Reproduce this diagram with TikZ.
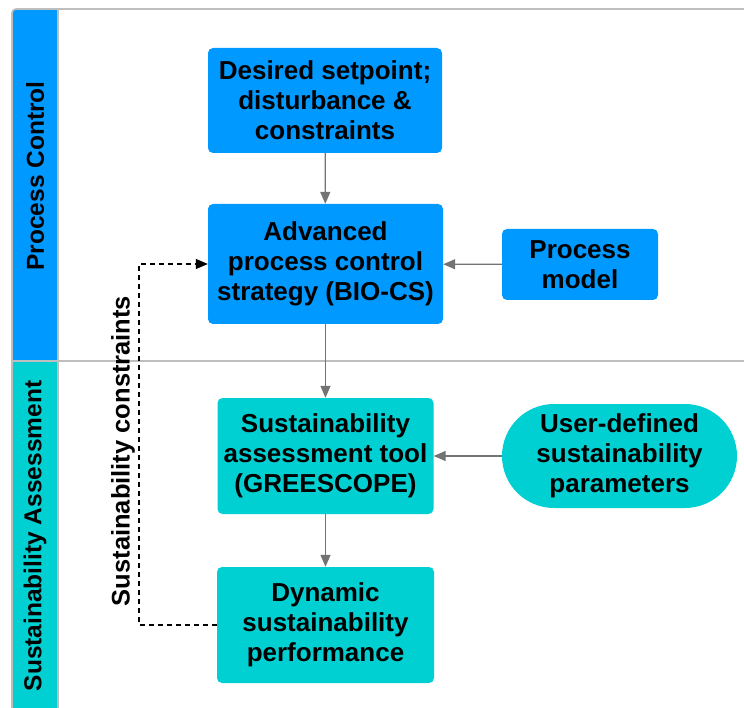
\documentclass[tikz,border=0pt]{standalone}
\usepackage{fontspec}
\setmainfont{Liberation Sans}
\usetikzlibrary{arrows.meta}
\definecolor{pcblue}{RGB}{0,153,255}
\definecolor{sateal}{RGB}{0,208,210}
\definecolor{framegray}{RGB}{190,190,190}
\definecolor{arrowgray}{RGB}{115,115,115}
\tikzset{
  box/.style={rounded corners=5pt, align=center, inner sep=0pt,
    font=\fontsize{26}{30}\selectfont\bfseries, text=black},
  bluebox/.style={box, fill=pcblue},
  tealbox/.style={box, fill=sateal},
  flow/.style={draw=arrowgray, line width=1.3pt, -{Triangle[length=12pt,width=10pt]}},
  feedback/.style={draw=black, line width=1.2pt, dashed, dash pattern=on 5pt off 4pt,
    -{Triangle[length=12pt,width=10pt]}},
  lanetitle/.style={rotate=90, font=\fontsize{24.5}{28}\selectfont\bfseries, text=black}
}
\begin{document}
\begin{tikzpicture}[x=1pt,y=-1pt]
\useasboundingbox (0,0) rectangle (744,708);
\fill[white] (0,0) rectangle (744,708);
% lane headers
\fill[pcblue, rounded corners=4pt] (12,718) -- (12,9) -- (58,9) -- (58,718);
\fill[pcblue] (12,300) rectangle (58,361);
\fill[sateal] (12,361) rectangle (58,708);
% swimlane frame
\draw[framegray, line width=1.6pt, rounded corners=4pt] (12,718) -- (12,9) -- (750,9);
\draw[framegray, line width=1.6pt] (58,9) -- (58,708);
\draw[framegray, line width=1.6pt] (12,361) -- (750,361);
\node[lanetitle] (lanepc) at (35,176) {Process Control};
\node[lanetitle] (lanesa) at (35,536) {Sustainability Assessment};
% process nodes
\node[bluebox, minimum width=234pt, minimum height=105pt] (des) at (325,100.5)
  {Desired setpoint;\\disturbance \&\\constraints};
\node[bluebox, minimum width=235pt, minimum height=120pt] (adv) at (325.5,264)
  {Advanced\\process control\\strategy (BIO-CS)};
\node[bluebox, minimum width=156pt, minimum height=71pt] (pm) at (580,264.5)
  {Process\\model};
\node[tealbox, minimum width=216pt, minimum height=116pt] (sat) at (325.5,456)
  {Sustainability\\assessment tool\\(GREESCOPE)};
\node[tealbox, minimum width=235pt, minimum height=104pt, rounded corners=52pt] (udp) at (619.5,456)
  {User-defined\\sustainability\\parameters};
\node[tealbox, minimum width=217pt, minimum height=116pt] (dyn) at (325.5,625)
  {Dynamic\\sustainability\\performance};
% connectors
\draw[flow] (des) -- (adv);
\draw[flow] (pm) -- (adv);
\draw[flow] (adv) -- (sat);
\draw[flow] (udp) -- (sat);
\draw[flow] (sat) -- (dyn);
\coordinate (fbb) at (139,625);
\coordinate (fbt) at (139,264);
\draw[feedback] (dyn.west) -- (fbb) -- (fbt) -- (adv.west);
\node[lanetitle, font=\fontsize{25.5}{28}\selectfont\bfseries] (fblabel) at (123,451) {Sustainability constraints};
\end{tikzpicture}
\end{document}
